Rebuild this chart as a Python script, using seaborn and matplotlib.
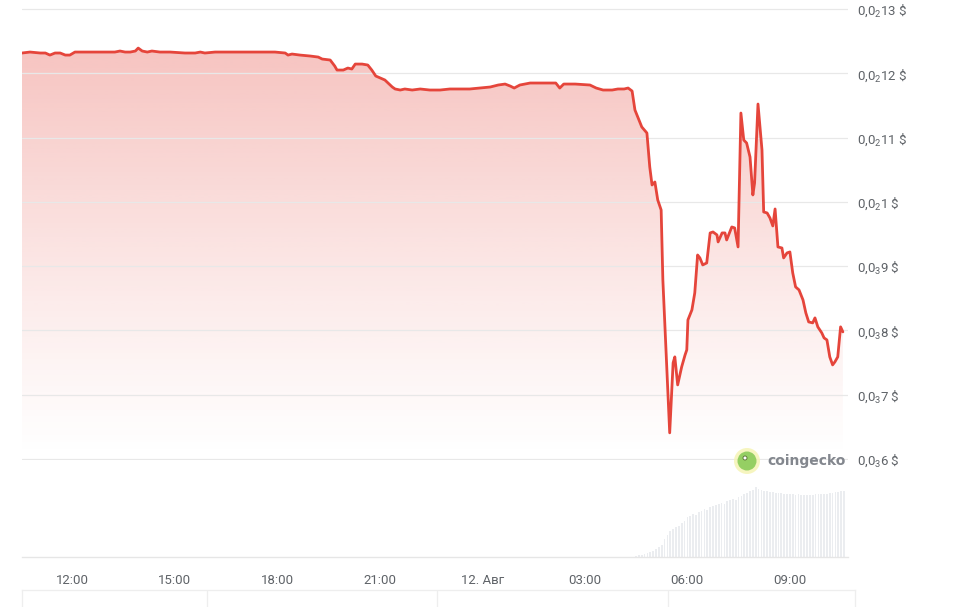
import numpy as np
import pandas as pd
import matplotlib
matplotlib.use("Agg")
import matplotlib.pyplot as plt
import matplotlib.dates as mdates
from matplotlib.colors import to_rgb
from matplotlib.patches import Ellipse
import seaborn as sns

# ---------------- data ----------------
times = [
    "2024-08-11 10:32", "2024-08-11 10:46", "2024-08-11 11:04", "2024-08-11 11:13", "2024-08-11 11:21",
    "2024-08-11 11:30", "2024-08-11 11:39", "2024-08-11 11:48", "2024-08-11 11:56", "2024-08-11 12:05",
    "2024-08-11 12:23", "2024-08-11 12:49", "2024-08-11 13:15", "2024-08-11 13:24", "2024-08-11 13:33",
    "2024-08-11 13:42", "2024-08-11 13:51", "2024-08-11 13:56", "2024-08-11 14:03", "2024-08-11 14:12",
    "2024-08-11 14:20", "2024-08-11 14:34", "2024-08-11 14:52", "2024-08-11 15:18", "2024-08-11 15:36",
    "2024-08-11 15:45", "2024-08-11 15:53", "2024-08-11 16:11", "2024-08-11 16:55", "2024-08-11 17:30",
    "2024-08-11 17:56", "2024-08-11 18:14", "2024-08-11 18:19", "2024-08-11 18:26", "2024-08-11 18:40",
    "2024-08-11 18:58", "2024-08-11 19:12", "2024-08-11 19:19", "2024-08-11 19:33", "2024-08-11 19:41",
    "2024-08-11 19:45", "2024-08-11 19:56", "2024-08-11 20:04", "2024-08-11 20:11", "2024-08-11 20:17",
    "2024-08-11 20:29", "2024-08-11 20:39", "2024-08-11 20:46", "2024-08-11 20:53", "2024-08-11 21:09",
    "2024-08-11 21:22", "2024-08-11 21:27", "2024-08-11 21:36", "2024-08-11 21:44", "2024-08-11 21:57",
    "2024-08-11 22:11", "2024-08-11 22:28", "2024-08-11 22:46", "2024-08-11 23:03", "2024-08-11 23:21",
    "2024-08-11 23:38", "2024-08-11 23:56", "2024-08-12 00:14", "2024-08-12 00:28", "2024-08-12 00:40",
    "2024-08-12 00:49", "2024-08-12 00:56", "2024-08-12 01:06", "2024-08-12 01:24", "2024-08-12 01:50",
    "2024-08-12 02:09", "2024-08-12 02:16", "2024-08-12 02:23", "2024-08-12 02:43", "2024-08-12 03:09",
    "2024-08-12 03:20", "2024-08-12 03:32", "2024-08-12 03:48", "2024-08-12 03:58", "2024-08-12 04:09",
    "2024-08-12 04:16", "2024-08-12 04:23", "2024-08-12 04:28", "2024-08-12 04:33", "2024-08-12 04:40",
    "2024-08-12 04:49", "2024-08-12 04:54", "2024-08-12 04:58", "2024-08-12 05:03", "2024-08-12 05:08",
    "2024-08-12 05:14", "2024-08-12 05:17", "2024-08-12 05:24", "2024-08-12 05:29", "2024-08-12 05:35",
    "2024-08-12 05:38", "2024-08-12 05:43", "2024-08-12 05:50", "2024-08-12 05:56", "2024-08-12 05:59",
    "2024-08-12 06:01", "2024-08-12 06:08", "2024-08-12 06:13", "2024-08-12 06:18", "2024-08-12 06:22",
    "2024-08-12 06:27", "2024-08-12 06:34", "2024-08-12 06:40", "2024-08-12 06:45", "2024-08-12 06:52",
    "2024-08-12 06:54", "2024-08-12 07:01", "2024-08-12 07:06", "2024-08-12 07:09", "2024-08-12 07:18",
    "2024-08-12 07:23", "2024-08-12 07:29", "2024-08-12 07:34", "2024-08-12 07:39", "2024-08-12 07:44",
    "2024-08-12 07:50", "2024-08-12 07:55", "2024-08-12 07:58", "2024-08-12 08:04", "2024-08-12 08:11",
    "2024-08-12 08:14", "2024-08-12 08:20", "2024-08-12 08:25", "2024-08-12 08:30", "2024-08-12 08:34",
    "2024-08-12 08:39", "2024-08-12 08:46", "2024-08-12 08:49", "2024-08-12 08:55", "2024-08-12 09:00",
    "2024-08-12 09:05", "2024-08-12 09:10", "2024-08-12 09:16", "2024-08-12 09:23", "2024-08-12 09:28",
    "2024-08-12 09:33", "2024-08-12 09:40", "2024-08-12 09:44", "2024-08-12 09:49", "2024-08-12 09:56",
    "2024-08-12 10:00", "2024-08-12 10:05", "2024-08-12 10:10", "2024-08-12 10:15", "2024-08-12 10:19",
    "2024-08-12 10:24", "2024-08-12 10:29", "2024-08-12 10:33",
]
prices = [
    0.0012316, 0.0012331, 0.0012316, 0.0012316, 0.0012284,
    0.0012316, 0.0012316, 0.0012284, 0.0012284, 0.0012331,
    0.0012331, 0.0012331, 0.0012331, 0.0012347, 0.0012331,
    0.0012331, 0.0012347, 0.0012393, 0.0012347, 0.0012331,
    0.0012347, 0.0012331, 0.0012331, 0.0012316, 0.0012316,
    0.0012331, 0.0012316, 0.0012331, 0.0012331, 0.0012331,
    0.0012331, 0.0012316, 0.0012284, 0.0012300, 0.0012284,
    0.0012269, 0.0012253, 0.0012222, 0.0012207, 0.0012113,
    0.0012051, 0.0012051, 0.0012082, 0.0012067, 0.0012144,
    0.0012144, 0.0012129, 0.0012051, 0.0011958, 0.0011896,
    0.0011787, 0.0011756, 0.0011740, 0.0011756, 0.0011740,
    0.0011756, 0.0011740, 0.0011740, 0.0011756, 0.0011756,
    0.0011756, 0.0011771, 0.0011787, 0.0011818, 0.0011833,
    0.0011802, 0.0011771, 0.0011818, 0.0011849, 0.0011849,
    0.0011849, 0.0011771, 0.0011833, 0.0011833, 0.0011818,
    0.0011771, 0.0011740, 0.0011740, 0.0011756, 0.0011756,
    0.0011771, 0.0011724, 0.0011429, 0.0011320, 0.0011165,
    0.0011071, 0.0010542, 0.0010262, 0.0010309, 0.0010029,
    0.0009873, 0.0008785, 0.0007385, 0.0006405, 0.0007494,
    0.0007587, 0.0007151, 0.0007431, 0.0007618, 0.0007696,
    0.0008162, 0.0008318, 0.0008582, 0.0009173, 0.0009127,
    0.0009018, 0.0009049, 0.0009516, 0.0009531, 0.0009485,
    0.0009376, 0.0009516, 0.0009516, 0.0009407, 0.0009609,
    0.0009594, 0.0009298, 0.0011382, 0.0010962, 0.0010916,
    0.0010698, 0.0010107, 0.0010293, 0.0011522, 0.0010807,
    0.0009842, 0.0009827, 0.0009749, 0.0009625, 0.0009889,
    0.0009298, 0.0009282, 0.0009127, 0.0009205, 0.0009220,
    0.0008893, 0.0008676, 0.0008629, 0.0008473, 0.0008271,
    0.0008131, 0.0008116, 0.0008194, 0.0008054, 0.0007960,
    0.0007882, 0.0007851, 0.0007587, 0.0007462, 0.0007509,
    0.0007587, 0.0008054, 0.0007976,
]

vol_times = [
    "2024-08-12 04:30", "2024-08-12 04:35", "2024-08-12 04:40", "2024-08-12 04:45", "2024-08-12 04:50",
    "2024-08-12 04:55", "2024-08-12 05:00", "2024-08-12 05:05", "2024-08-12 05:10", "2024-08-12 05:15",
    "2024-08-12 05:20", "2024-08-12 05:25", "2024-08-12 05:30", "2024-08-12 05:35", "2024-08-12 05:40",
    "2024-08-12 05:45", "2024-08-12 05:50", "2024-08-12 05:55", "2024-08-12 06:00", "2024-08-12 06:05",
    "2024-08-12 06:10", "2024-08-12 06:15", "2024-08-12 06:20", "2024-08-12 06:25", "2024-08-12 06:30",
    "2024-08-12 06:35", "2024-08-12 06:40", "2024-08-12 06:45", "2024-08-12 06:50", "2024-08-12 06:55",
    "2024-08-12 07:00", "2024-08-12 07:05", "2024-08-12 07:10", "2024-08-12 07:15", "2024-08-12 07:20",
    "2024-08-12 07:25", "2024-08-12 07:30", "2024-08-12 07:35", "2024-08-12 07:40", "2024-08-12 07:45",
    "2024-08-12 07:50", "2024-08-12 07:55", "2024-08-12 08:00", "2024-08-12 08:05", "2024-08-12 08:10",
    "2024-08-12 08:15", "2024-08-12 08:20", "2024-08-12 08:25", "2024-08-12 08:30", "2024-08-12 08:35",
    "2024-08-12 08:40", "2024-08-12 08:45", "2024-08-12 08:50", "2024-08-12 08:55", "2024-08-12 09:00",
    "2024-08-12 09:05", "2024-08-12 09:10", "2024-08-12 09:15", "2024-08-12 09:20", "2024-08-12 09:25",
    "2024-08-12 09:30", "2024-08-12 09:35", "2024-08-12 09:40", "2024-08-12 09:45", "2024-08-12 09:50",
    "2024-08-12 09:55", "2024-08-12 10:00", "2024-08-12 10:05", "2024-08-12 10:10", "2024-08-12 10:15",
    "2024-08-12 10:20", "2024-08-12 10:25", "2024-08-12 10:30", "2024-08-12 10:35",
]
volumes = [
    1, 2, 2, 3, 4, 5, 6, 8, 10, 12,
    18, 22, 26, 28, 30, 31, 34, 36, 40, 41,
    43, 42, 45, 46, 48, 47, 50, 51, 52, 53,
    54, 53, 56, 57, 58, 57, 60, 61, 63, 64,
    66, 67, 70, 68, 67, 66, 66, 65, 65, 64,
    64, 64, 63, 63, 63, 63, 62, 63, 62, 62,
    62, 62, 62, 63, 63, 63, 63, 63, 64, 64,
    65, 65, 66, 66,
]

price_ticks = [0.0006, 0.0007, 0.0008, 0.0009, 0.0010, 0.0011, 0.0012, 0.0013]
price_labels = [
    r"0,0$_{\mathregular{3}}$6 \$", r"0,0$_{\mathregular{3}}$7 \$", r"0,0$_{\mathregular{3}}$8 \$",
    r"0,0$_{\mathregular{3}}$9 \$", r"0,0$_{\mathregular{2}}$1 \$", r"0,0$_{\mathregular{2}}$11 \$",
    r"0,0$_{\mathregular{2}}$12 \$", r"0,0$_{\mathregular{2}}$13 \$",
]
time_ticks = ["2024-08-11 12:00", "2024-08-11 15:00", "2024-08-11 18:00", "2024-08-11 21:00",
              "2024-08-12 00:00", "2024-08-12 03:00", "2024-08-12 06:00", "2024-08-12 09:00"]
time_labels = ["12:00", "15:00", "18:00", "21:00", "12. Авг", "03:00", "06:00", "09:00"]

x_start, x_end = "2024-08-11 10:32", "2024-08-12 10:42"

# ---------------- style ----------------
sns.set_theme(style="white")
plt.rcParams["font.family"] = ["Roboto", "DejaVu Sans"]
plt.rcParams["mathtext.fontset"] = "custom"
plt.rcParams["mathtext.rm"] = "Roboto"
plt.rcParams["mathtext.it"] = "Roboto"

RED = "#e5453b"
TXT = "#5f6368"

df = pd.DataFrame({"time": pd.to_datetime(times), "price": prices})
vdf = pd.DataFrame({"time": pd.to_datetime(vol_times), "volume": volumes})

W, H = 960, 607
fig = plt.figure(figsize=(W / 100, H / 100), dpi=100)
L, R = 22, 848
ax = fig.add_axes([L / W, (H - 459.5) / H, (R - L) / W, 459.5 / H])
axv = fig.add_axes([L / W, (H - 557) / H, (R - L) / W, (557 - 459.5) / H], sharex=ax)
axn = fig.add_axes([L / W, -0.01, (855 - L) / W, (H - 590) / H + 0.01])
for a in (ax, axv, axn):
    a.set_facecolor("none")

# price line
sns.lineplot(data=df, x="time", y="price", ax=ax, color=RED, linewidth=2.0, zorder=5)

xs = mdates.date2num(df["time"])
ys = df["price"].values
ylo, yhi = 0.000599, 0.0013141
poly = ax.fill_between(xs, ys, ylo, facecolor="none", edgecolor="none")
n = 256
img = np.zeros((n, 1, 4))
img[:, 0, :3] = to_rgb(RED)
img[:, 0, 3] = 0.32 * np.linspace(1.0, 0.0, n) ** 1.15
im = ax.imshow(img, extent=[xs.min(), xs.max(), ylo, ys.max()], origin="upper",
               aspect="auto", zorder=0.2, interpolation="bilinear")
im.set_clip_path(poly.get_paths()[0], transform=ax.transData)

ax.set_xlim(mdates.date2num(pd.Timestamp(x_start)), mdates.date2num(pd.Timestamp(x_end)))
ax.set_ylim(ylo, yhi)
ax.set_yticks(price_ticks)
ax.set_yticklabels(price_labels)
ax.yaxis.tick_right()
ax.tick_params(axis="y", length=0, pad=6.5, labelsize=9.5, labelcolor=TXT)
ax.grid(axis="y", color="#e8e8e8", linewidth=0.9, zorder=0.5)
ax.grid(axis="x", visible=False)
ax.tick_params(axis="x", bottom=False, labelbottom=False)
ax.set_xlabel("")
ax.set_ylabel("")
for s in ax.spines.values():
    s.set_visible(False)

# volume bars
axv.bar(mdates.date2num(vdf["time"]), vdf["volume"], width=3.0 / 1440, color="#ebedf0",
        antialiased=False, linewidth=0)
axv.set_ylim(0, 97.5)
axv.set_yticks([])
axv.set_xticks(mdates.date2num(pd.to_datetime(time_ticks)))
axv.set_xticklabels(time_labels)
axv.tick_params(axis="x", length=0, pad=12, labelsize=9.5, labelcolor=TXT)
for k, s in axv.spines.items():
    s.set_visible(k == "bottom")
axv.spines["bottom"].set_color("#e6e6e6")
axv.spines["bottom"].set_linewidth(1.0)
axv.grid(False)

# navigator strip
axn.set_xlim(0, 1)
axn.set_ylim(0, 1)
axn.set_xticks([0.222, 0.498, 0.776])
axn.tick_params(length=0, labelbottom=False, labelleft=False)
axn.grid(axis="x", color="#eeeeee", linewidth=0.9)
axn.grid(axis="y", visible=False)
for k, s in axn.spines.items():
    s.set_color("#eeeeee")
    s.set_linewidth(0.9)

# coingecko watermark
cx, cy = 747 / W, 1 - 461 / H
fig.patches.append(Ellipse((cx, cy), 26 / W, 26 / H, transform=fig.transFigure,
                           facecolor="#f4f3b0", edgecolor="none", alpha=0.8, zorder=9))
fig.patches.append(Ellipse((cx, cy), 19 / W, 19 / H, transform=fig.transFigure,
                           facecolor="#95cf63", edgecolor="none", zorder=10))
fig.patches.append(Ellipse((cx - 2 / W, cy + 3 / H), 4 / W, 4 / H, transform=fig.transFigure,
                           facecolor="white", edgecolor="#556b2f", linewidth=0.6, zorder=11))
fig.text(767 / W, 1 - 461 / H, "coingecko", ha="left", va="center", fontsize=10,
         fontweight="bold", color="#83878e", family=["DejaVu Sans"])

fig.savefig("out.png", dpi=100)
